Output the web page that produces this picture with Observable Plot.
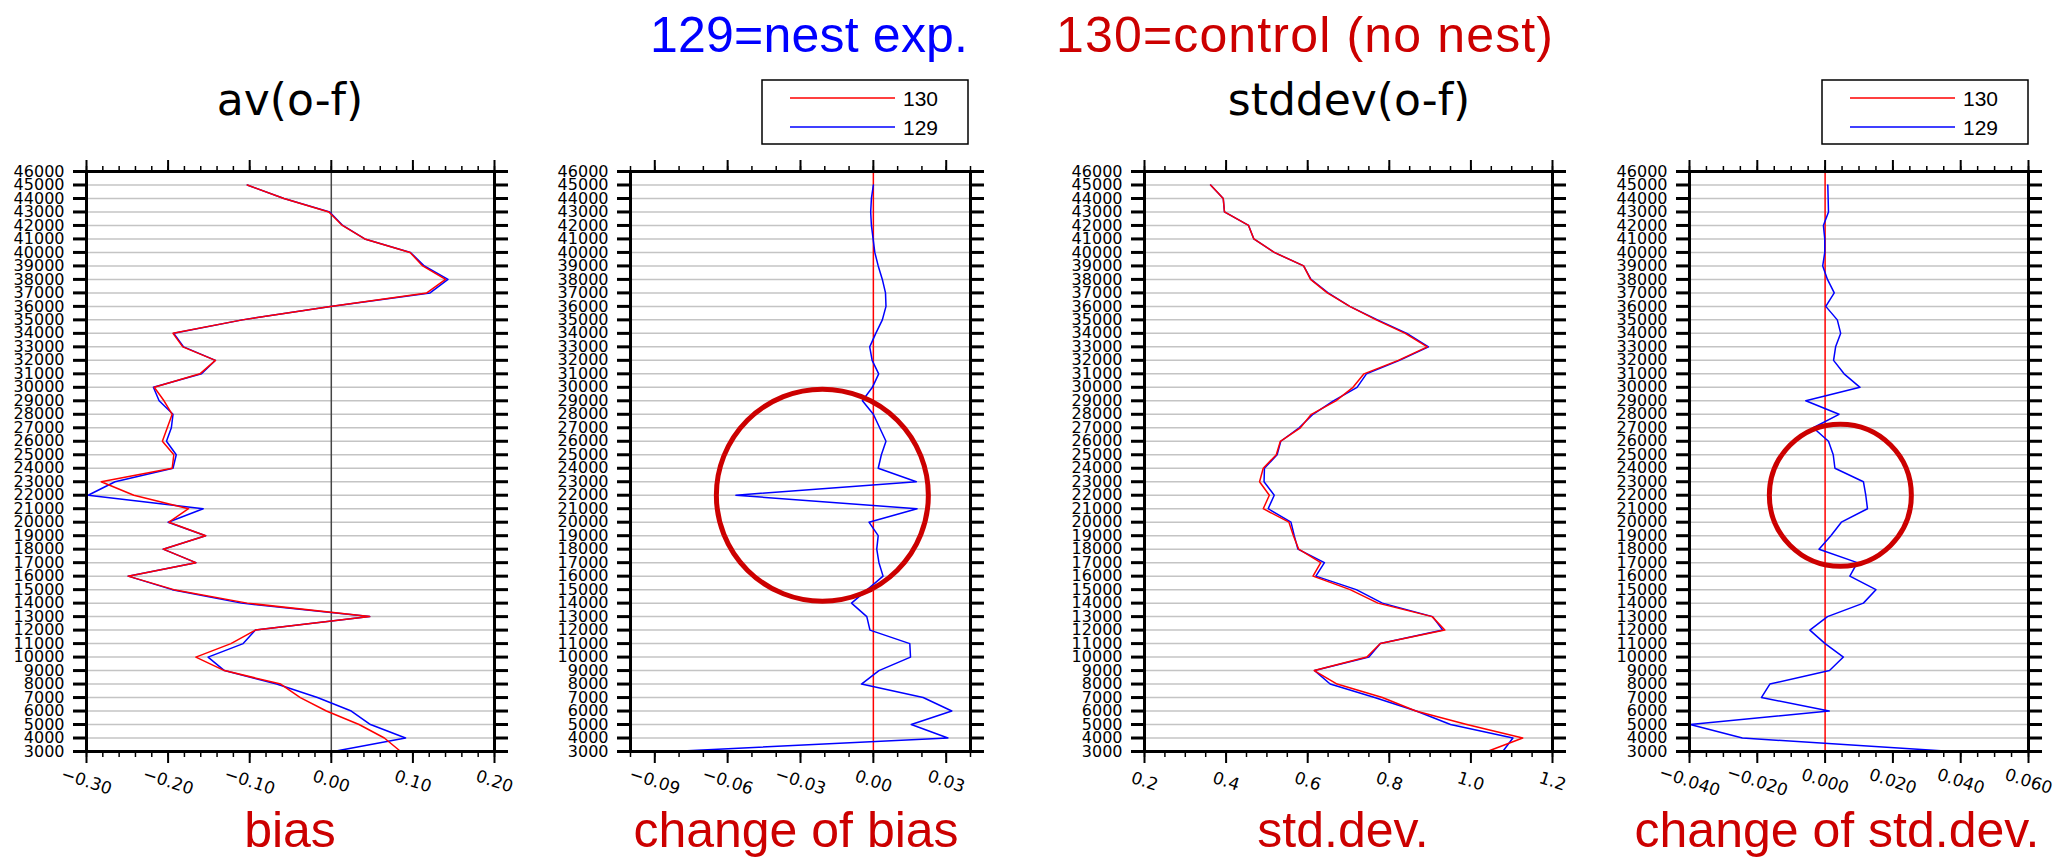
<!DOCTYPE html>
<html><head><meta charset="utf-8">
<script src="https://cdn.jsdelivr.net/npm/d3@7"></script>
<script src="https://cdn.jsdelivr.net/npm/@observablehq/plot@0.6"></script>
<style>
html,body{margin:0;padding:0;background:#fff;}
#wrap{position:relative;width:2069px;height:859px;overflow:hidden;background:#fff;}
#wrap svg{position:absolute;top:0;}
</style></head><body><div id="wrap"></div>
<script>
// ---- data (pressure-level style vertical coordinate) ----
const levels = [45000,44000,43000,42000,41000,40000,39000,38000,37000,36000,35000,34000,33000,32000,31000,30000,29000,28000,27000,26000,25000,24000,23000,22000,21000,20000,19000,18000,17000,16000,15000,14000,13000,12000,11000,10000,9000,8000,7000,6000,5000,4000,3000];
const yTicks = [3000,4000,5000,6000,7000,8000,9000,10000,11000,12000,13000,14000,15000,16000,17000,18000,19000,20000,21000,22000,23000,24000,25000,26000,27000,28000,29000,30000,31000,32000,33000,34000,35000,36000,37000,38000,39000,40000,41000,42000,43000,44000,45000,46000];
const gridLevels = [4000,5000,6000,7000,8000,9000,10000,11000,12000,13000,14000,15000,16000,17000,18000,19000,20000,21000,22000,23000,24000,25000,26000,27000,28000,29000,30000,31000,32000,33000,34000,35000,36000,37000,38000,39000,40000,41000,42000,43000,44000,45000];

// av(o-f)
const bias130 = [-0.103,-0.058,-0.003,0.0135,0.041,0.0965,0.112,0.140,0.117,-0.001,-0.109,-0.194,-0.182,-0.142,-0.161,-0.217,-0.205,-0.195,-0.201,-0.207,-0.193,-0.195,-0.282,-0.242,-0.175,-0.199,-0.154,-0.206,-0.166,-0.249,-0.193,-0.103,0.047,-0.093,-0.123,-0.166,-0.131,-0.062,-0.038,-0.006,0.034,0.065,0.085];
const bias129 = [-0.103,-0.058,-0.002,0.014,0.041,0.097,0.114,0.143,0.121,-0.001,-0.109,-0.193,-0.181,-0.142,-0.159,-0.218,-0.211,-0.194,-0.196,-0.202,-0.190,-0.194,-0.265,-0.298,-0.157,-0.200,-0.154,-0.206,-0.166,-0.249,-0.195,-0.110,0.047,-0.093,-0.108,-0.151,-0.131,-0.067,-0.017,0.0245,0.048,0.091,0.0025];
// change of bias (129 - 130)
const biasChange129 = [0,-0.0008,-0.0011,-0.0008,-0.0001,0.0006,0.002,0.0037,0.005,0.0052,0.0037,0.001,-0.0015,-0.0005,0.0022,-0.0004,-0.0045,0.0,0.0026,0.0052,0.0033,0.002,0.0177,-0.0566,0.018,-0.0018,0.002,0.0014,0.0023,0.004,-0.0025,-0.009,-0.0027,-0.0014,0.015,0.0153,0.0023,-0.0049,0.0205,0.0323,0.0156,0.0307,-0.083];
// stddev(o-f)
const std130 = [0.362,0.393,0.396,0.455,0.468,0.518,0.590,0.607,0.648,0.703,0.768,0.839,0.893,0.822,0.738,0.711,0.669,0.609,0.582,0.533,0.523,0.491,0.482,0.506,0.491,0.554,0.565,0.578,0.632,0.613,0.704,0.772,0.905,0.936,0.778,0.745,0.616,0.672,0.783,0.865,0.990,1.127,1.040];
const std129 = [0.362,0.393,0.396,0.455,0.468,0.518,0.590,0.608,0.650,0.703,0.771,0.843,0.896,0.825,0.744,0.721,0.663,0.613,0.579,0.534,0.525,0.494,0.493,0.518,0.503,0.559,0.567,0.576,0.641,0.620,0.719,0.783,0.906,0.931,0.778,0.750,0.617,0.655,0.764,0.866,0.950,1.103,1.078];
// change of std.dev. (129 - 130)
const stdChange129 = [0.0008,0.0009,0.001,-0.0005,-0.0001,-0.0001,-0.0007,0.0007,0.0027,0.0002,0.0036,0.0046,0.0031,0.0025,0.0056,0.0103,-0.0057,0.0041,-0.0035,0.001,0.0024,0.0029,0.0113,0.012,0.0125,0.0048,0.0017,-0.0018,0.0095,0.0073,0.015,0.0113,0.0007,-0.0045,0,0.0054,0.0013,-0.0163,-0.0188,0.0012,-0.0398,-0.0244,0.0376];

// tick values and labels
const biasTicks = [-0.3,-0.2,-0.1,0,0.1,0.2];
const biasTickLabels = ["−0.30","−0.20","−0.10","0.00","0.10","0.20"];
const dBiasTicks = [-0.09,-0.06,-0.03,0,0.03];
const dBiasTickLabels = ["−0.09","−0.06","−0.03","0.00","0.03"];
const stdTicks = [0.2,0.4,0.6,0.8,1.0,1.2];
const stdTickLabels = ["0.2","0.4","0.6","0.8","1.0","1.2"];
const dStdTicks = [-0.04,-0.02,0,0.02,0.04,0.06];
const dStdTickLabels = ["−0.040","−0.020","0.000","0.020","0.040","0.060"];

// annotation circles (data coordinates)
const circleBias = {x: -0.021, y: 22000};
const circleStd = {x: 0.0045, y: 22000};

const RED = "#ff0000", BLUE = "#0000ff", DARKRED = "#cc0000";
const wrap = document.getElementById("wrap");

function table(vals) { return levels.map((l, i) => ({lev: l, v: vals[i]})); }

function panel(cfg) {
  const {left, width, frameL, frameR, domain, major, labels, minorStep, series, zero, circle} = cfg;
  const n0 = Math.round(domain[0] / minorStep), n1 = Math.round(domain[1] / minorStep);
  const minor = d3.range(n0, n1 + 1).map(k => +(k * minorStep).toFixed(6));
  const tickData = major.map((v, i) => ({v, label: labels[i]}));
  const marks = [
    Plot.gridY(gridLevels, {stroke: "#c4c4c4", strokeOpacity: 1, strokeWidth: 1.5}),
  ];
  if (zero) marks.push(Plot.ruleX([0], {stroke: zero.color, strokeWidth: zero.width}));
  for (const s of series) {
    marks.push(Plot.line(table(s.vals), {x: "v", y: "lev", stroke: s.color, strokeWidth: 1.5}));
  }
  if (circle) marks.push(Plot.dot([circle.c], {x: "x", y: "y", r: circle.r, stroke: DARKRED, strokeWidth: 5, fill: "none"}));
  marks.push(
    Plot.frame({stroke: "#000", strokeWidth: 3}),
    Plot.axisY(yTicks, {anchor: "left", label: null, tickSize: 13, tickPadding: 9, strokeWidth: 3, tickFormat: d => String(d), fontSize: 16}),
    Plot.axisY(yTicks, {anchor: "right", label: null, tickSize: 13, strokeWidth: 3, tickFormat: () => ""}),
    Plot.axisX(major, {anchor: "bottom", label: null, tickSize: 12, strokeWidth: 2, tickFormat: () => ""}),
    Plot.axisX(minor, {anchor: "bottom", label: null, tickSize: 6, strokeWidth: 1.5, tickFormat: () => ""}),
    Plot.axisX(major, {anchor: "top", label: null, tickSize: 12, strokeWidth: 2, tickFormat: () => ""}),
    Plot.axisX(minor, {anchor: "top", label: null, tickSize: 6, strokeWidth: 1.5, tickFormat: () => ""}),
    Plot.text(tickData, {x: "v", text: "label", frameAnchor: "bottom", dy: 30, rotate: 18, fontSize: 17, textAnchor: "middle", lineAnchor: "middle", fill: "#000"})
  );
  const chart = Plot.plot({
    width, height: 859,
    marginLeft: frameL - left, marginRight: left + width - frameR,
    marginTop: 171, marginBottom: 108,
    x: {domain, label: null}, y: {domain: [3000, 46000], label: null},
    style: {fontFamily: "DejaVu Sans", fontSize: "16px", background: "transparent", overflow: "visible", color: "#000"},
    marks
  });
  chart.style.left = left + "px";
  wrap.appendChild(chart);
}

panel({left: 0, width: 540, frameL: 86, frameR: 494, domain: [-0.3, 0.2], major: biasTicks, labels: biasTickLabels, minorStep: 0.02,
  series: [{vals: bias129, color: BLUE}, {vals: bias130, color: RED}], zero: {color: "#444", width: 1.5}});
panel({left: 540, width: 480, frameL: 630, frameR: 970, domain: [-0.1, 0.04], major: dBiasTicks, labels: dBiasTickLabels, minorStep: 0.01,
  series: [{vals: biasChange129, color: BLUE}], zero: {color: RED, width: 1.5}, circle: {c: circleBias, r: 106}});
panel({left: 1060, width: 540, frameL: 1144, frameR: 1552, domain: [0.2, 1.2], major: stdTicks, labels: stdTickLabels, minorStep: 0.05,
  series: [{vals: std129, color: BLUE}, {vals: std130, color: RED}]});
panel({left: 1600, width: 469, frameL: 1689, frameR: 2028, domain: [-0.04, 0.06], major: dStdTicks, labels: dStdTickLabels, minorStep: 0.005,
  series: [{vals: stdChange129, color: BLUE}], zero: {color: RED, width: 1.5}, circle: {c: circleStd, r: 71}});

// ---- titles, captions, legends overlay ----
const ov = d3.select(wrap).append("svg").attr("width", 2069).attr("height", 859).style("left", "0px").style("pointer-events", "none");
function txt(x, y, s, opt) {
  const t = ov.append("text").attr("x", x).attr("y", y).text(s)
    .attr("font-family", opt.font || "Liberation Sans").attr("font-size", opt.size)
    .attr("fill", opt.fill || "#000").attr("text-anchor", opt.anchor || "start");
  if (opt.len) t.attr("textLength", opt.len).attr("lengthAdjust", "spacing");
  return t;
}
txt(650, 52, "129=nest exp.", {size: 50, fill: BLUE, len: 318});
txt(1056, 52, "130=control (no nest)", {size: 50, fill: DARKRED, len: 497});
txt(290, 115, "av(o-f)", {size: 44, font: "DejaVu Sans", anchor: "middle"});
txt(1349, 115, "stddev(o-f)", {size: 44, font: "DejaVu Sans", anchor: "middle"});
txt(290, 847, "bias", {size: 50, fill: DARKRED, anchor: "middle"});
txt(796, 847, "change of bias", {size: 50, fill: DARKRED, anchor: "middle"});
txt(1343, 847, "std.dev.", {size: 50, fill: DARKRED, anchor: "middle"});
txt(1837, 847, "change of std.dev.", {size: 50, fill: DARKRED, anchor: "middle"});

const legendItems = [{name: "130", color: RED}, {name: "129", color: BLUE}];
for (const bx of [762, 1822]) {
  ov.append("rect").attr("x", bx).attr("y", 80).attr("width", 206).attr("height", 64)
    .attr("fill", "#fff").attr("stroke", "#000").attr("stroke-width", 1.5);
  legendItems.forEach((it, i) => {
    const ly = 98 + i * 29;
    ov.append("line").attr("x1", bx + 28).attr("x2", bx + 133).attr("y1", ly).attr("y2", ly)
      .attr("stroke", it.color).attr("stroke-width", 1.5);
    txt(bx + 141, ly + 8, it.name, {size: 21});
  });
}
</script></body></html>
